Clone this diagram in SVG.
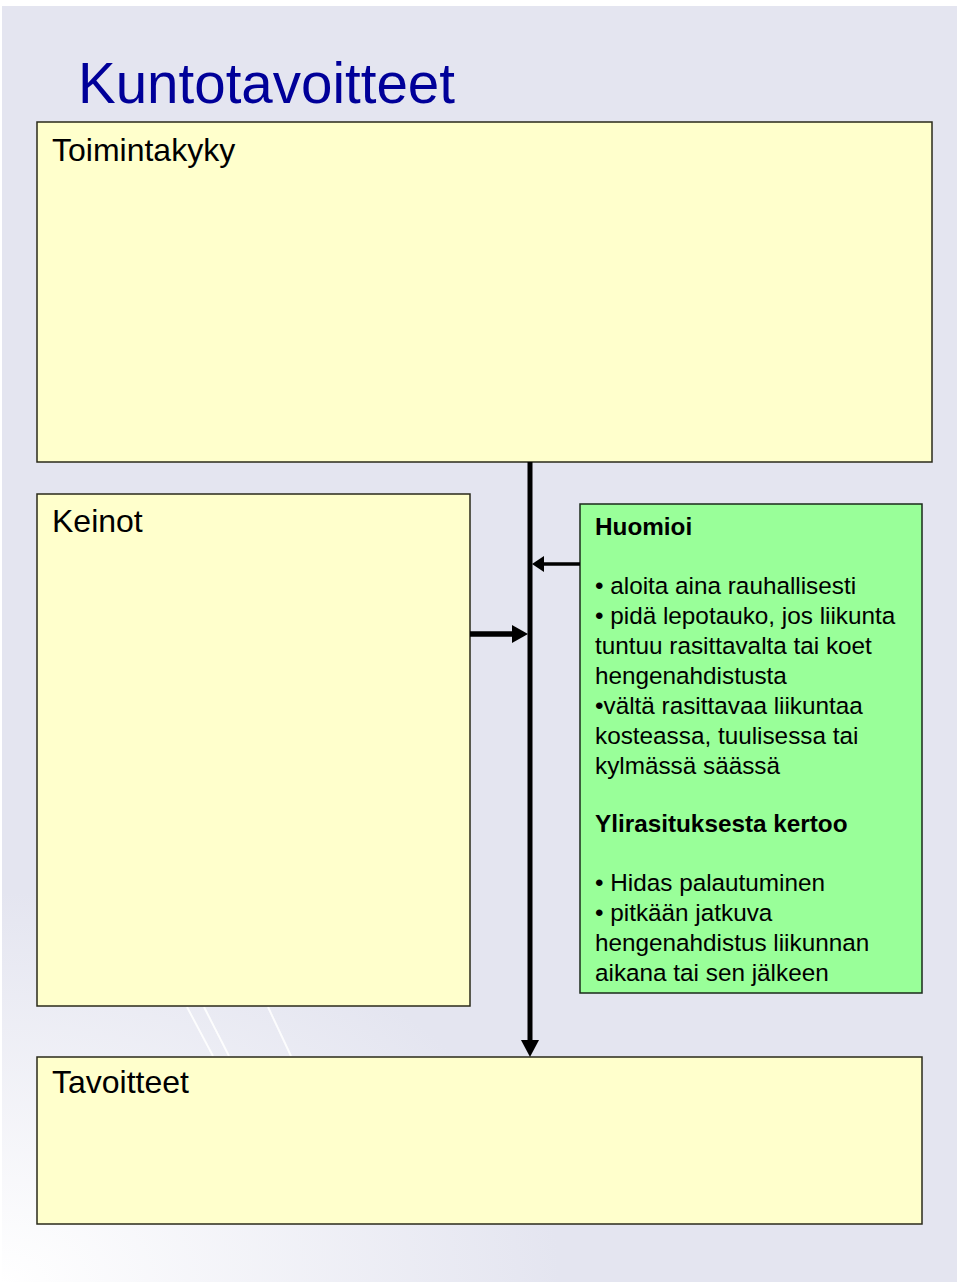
<svg xmlns="http://www.w3.org/2000/svg" width="960" height="1284" viewBox="0 0 960 1284">
<defs>
<radialGradient id="bg" cx="0" cy="1284" r="560" gradientUnits="userSpaceOnUse" gradientTransform="translate(0 1284) scale(1 0.7) translate(0 -1284)">
<stop offset="0" stop-color="#ffffff"/>
<stop offset="1" stop-color="#e4e5f0"/>
</radialGradient>
<style>
.box{fill:#ffffcc;stroke:#2a2a1a;stroke-width:1.5}
.green{fill:#99ff99;stroke:#1a2a1a;stroke-width:1.5}
.lbl{font-family:"Liberation Sans",Arial,sans-serif;font-size:32px;fill:#000}
.t{font-family:"Liberation Sans",Arial,sans-serif;font-size:24.3px;fill:#000}
.b{font-weight:bold}
.con{stroke:#000;fill:none}
.deco{stroke:#ffffff;stroke-width:2;opacity:0.9}
</style>
</defs>
<rect x="0" y="0" width="960" height="1284" fill="#ffffff"/>
<rect x="2" y="6" width="955" height="1276" fill="url(#bg)"/>
<g id="deco">
<line class="deco" x1="187" y1="1007" x2="213" y2="1056"/>
<line class="deco" x1="204" y1="1007" x2="229" y2="1056"/>
<line class="deco" x1="268" y1="1007" x2="291" y2="1056"/>
</g>
<text x="78" y="103" font-family="Liberation Sans, Arial, sans-serif" font-size="56.5" fill="#000099">Kuntotavoitteet</text>
<g id="toimintakyky">
<rect class="box" x="37" y="122" width="895" height="340"/>
<text class="lbl" x="52" y="161">Toimintakyky</text>
</g>
<g id="keinot">
<rect class="box" x="37" y="494" width="433" height="512"/>
<text class="lbl" x="52" y="532">Keinot</text>
</g>
<g id="huomioi">
<rect class="green" x="580" y="504" width="342" height="489"/>
<text class="t b" x="595" y="535">Huomioi</text>
<text class="t" x="595" y="594">• aloita aina rauhallisesti</text>
<text class="t" x="595" y="624">• pidä lepotauko, jos liikunta</text>
<text class="t" x="595" y="654">tuntuu rasittavalta tai koet</text>
<text class="t" x="595" y="684">hengenahdistusta</text>
<text class="t" x="595" y="714">•vältä rasittavaa liikuntaa</text>
<text class="t" x="595" y="744">kosteassa, tuulisessa tai</text>
<text class="t" x="595" y="774">kylmässä säässä</text>
<text class="t b" x="595" y="832">Ylirasituksesta kertoo</text>
<text class="t" x="595" y="891">• Hidas palautuminen</text>
<text class="t" x="595" y="921">• pitkään jatkuva</text>
<text class="t" x="595" y="951">hengenahdistus liikunnan</text>
<text class="t" x="595" y="981">aikana tai sen jälkeen</text>
</g>
<g id="tavoitteet">
<rect class="box" x="37" y="1057" width="885" height="167"/>
<text class="lbl" x="52" y="1093">Tavoitteet</text>
</g>
<g id="connectors">
<line class="con" x1="530" y1="462" x2="530" y2="1042" stroke-width="5"/>
<polygon points="521,1040 539,1040 530,1057" fill="#000"/>
<line class="con" x1="580" y1="564" x2="542" y2="564" stroke-width="3.5"/>
<polygon points="544,556 544,572 532,564" fill="#000"/>
<line class="con" x1="470" y1="634" x2="513" y2="634" stroke-width="5.5"/>
<polygon points="512,625 512,643 528,634" fill="#000"/>
</g>
</svg>
